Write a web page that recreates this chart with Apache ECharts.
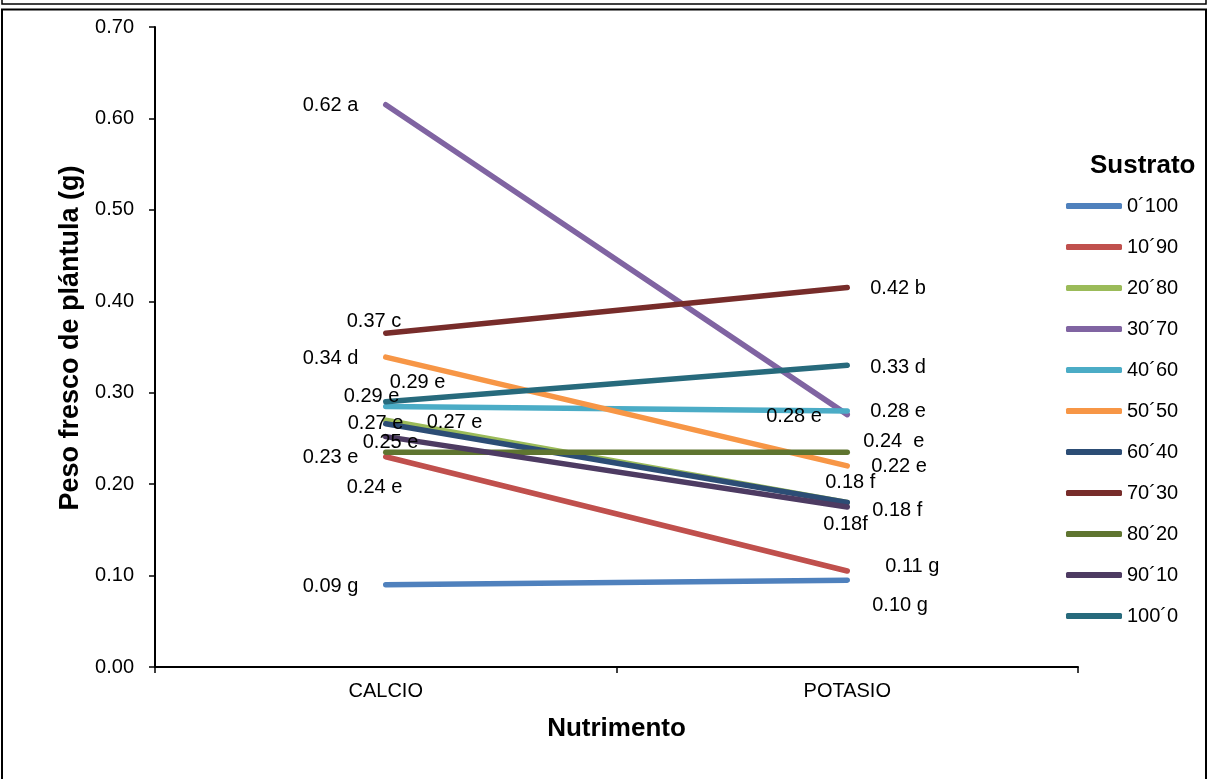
<!DOCTYPE html>
<html>
<head>
<meta charset="utf-8">
<title>Peso fresco de plántula</title>
<script src="https://cdn.jsdelivr.net/npm/echarts@6/dist/echarts.min.js"></script>
<style>
  html, body { margin: 0; padding: 0; background: #fff; }
  #chart { width: 1209px; height: 779px; }
</style>
</head>
<body>
<div id="chart"></div>
<script>
// Nutrient categories on the x axis
const categories = ['CALCIO', 'POTASIO'];

// Substrate mixtures (one line each)
const sustratos = ['0´100', '10´90', '20´80', '30´70', '40´60', '50´50',
                   '60´40', '70´30', '80´20', '90´10', '100´0'];

// Fresh seedling weight (g) per substrate
const calcio  = [0.090, 0.230, 0.270, 0.615, 0.285, 0.339, 0.266, 0.365, 0.235, 0.252, 0.290];
const potasio = [0.095, 0.105, 0.180, 0.276, 0.280, 0.220, 0.180, 0.415, 0.235, 0.175, 0.330];

// Mean-separation letters shown after each value
const letrasCalcio  = [' g', ' e', ' e', ' a', ' e', ' d', ' e', ' c', ' e', ' e', ' e'];
const letrasPotasio = [' g', ' g', ' f', ' e', ' e', ' e', ' f', ' b', '  e', 'f', ' d'];

// Y axis ticks
const yMin = 0, yMax = 0.7, yStep = 0.1;

// Line colours
const colores = ['#4F81BD', '#C0504D', '#9BBB59', '#8064A2', '#4BACC6', '#F79646',
                 '#2C4D75', '#772C2A', '#5F7530', '#4D3B62', '#276A7C'];

// Label placement (pixel offsets of the text's left-middle from each point): [calcio, potasio]
const desplazamientos = [
  [[-83, 2],  [25, 25]],
  [[-83, 1],  [38, -4]],
  [[-38, 3],  [-22, -20]],
  [[-83, 1],  [-81, 2]],
  [[-42, -10],[23, 1]],
  [[-83, 1],  [24, 1]],
  [[41, -1],  [25, 8]],
  [[-39, -12],[23, 1]],
  [[-39, 35], [16, -11]],
  [[-23, 6],  [-24, 18]],
  [[4, -19],  [23, 2]]
];

const FONT = "'Liberation Sans', Arial, Helvetica, sans-serif";
const redondear = v => (Math.round(v * 100 + 1e-6) / 100).toFixed(2);

const series = sustratos.map((nombre, i) => {
  const valores = [calcio[i], potasio[i]];
  const letras = [letrasCalcio[i], letrasPotasio[i]];
  return {
    name: nombre,
    type: 'line',
    color: colores[i],
    symbol: 'circle',
    symbolSize: 0.1,
    showSymbol: true,
    silent: true,
    lineStyle: { width: 5.5, color: colores[i], cap: 'round' },
    itemStyle: { color: colores[i] },
    data: valores.map((v, j) => ({
      value: v,
      label: {
        show: true,
        position: desplazamientos[i][j],
        align: 'left',
        verticalAlign: 'middle',
        formatter: () => redondear(v) + letras[j],
        color: '#000',
        fontSize: 20,
        fontFamily: FONT
      }
    })),
    labelLayout: { hideOverlap: false },
    animation: false
  };
});

const chart = echarts.init(document.getElementById('chart'), null, { renderer: 'canvas' });
chart.setOption({
  animation: false,
  backgroundColor: '#fff',
  textStyle: { fontFamily: FONT, color: '#000' },
  title: {
    text: 'Sustrato',
    left: 1090,
    top: 153,
    padding: 0,
    textStyle: { fontSize: 26, fontWeight: 'bold', color: '#000', fontFamily: FONT }
  },
  legend: {
    orient: 'vertical',
    left: 1066,
    top: 196,
    padding: 0,
    itemWidth: 56,
    itemHeight: 6,
    itemGap: 21,
    icon: 'roundRect',
    selectedMode: false,
    data: sustratos,
    textStyle: { fontSize: 20, color: '#000', fontFamily: FONT, lineHeight: 20 }
  },
  grid: { left: 155, right: 131, top: 27, bottom: 112, containLabel: false },
  xAxis: {
    type: 'category',
    data: categories,
    boundaryGap: true,
    name: 'Nutrimento',
    nameLocation: 'middle',
    nameGap: 49,
    nameTextStyle: { fontSize: 26, fontWeight: 'bold', color: '#000', fontFamily: FONT },
    axisLine: { lineStyle: { color: '#000', width: 2 } },
    axisTick: { show: true, length: 6, alignWithLabel: false, lineStyle: { color: '#000', width: 1.5 } },
    axisLabel: { fontSize: 20, color: '#000', margin: 14, fontFamily: FONT },
    splitLine: { show: false }
  },
  yAxis: {
    type: 'value',
    min: yMin,
    max: yMax,
    interval: yStep,
    name: 'Peso fresco de plántula (g)',
    nameLocation: 'middle',
    nameGap: 69,
    nameRotate: 90,
    nameTextStyle: { fontSize: 27, fontWeight: 'bold', color: '#000', fontFamily: FONT,
                     padding: [0, 0, 0, 18] },
    axisLine: { show: true, lineStyle: { color: '#000', width: 2 } },
    axisTick: { show: true, length: 6, lineStyle: { color: '#000', width: 1.5 } },
    axisLabel: { fontSize: 20, color: '#000', margin: 21, fontFamily: FONT,
                 formatter: v => v.toFixed(2) },
    splitLine: { show: false }
  },
  graphic: [
    { type: 'rect', silent: true, z: 100,
      shape: { x: 2, y: -12, width: 1204, height: 16 },
      style: { fill: 'none', stroke: '#000', lineWidth: 1.5 } },
    { type: 'rect', silent: true, z: 100,
      shape: { x: 2, y: 9.5, width: 1204, height: 800 },
      style: { fill: 'none', stroke: '#000', lineWidth: 2 } }
  ],
  series: series
});
</script>
</body>
</html>
